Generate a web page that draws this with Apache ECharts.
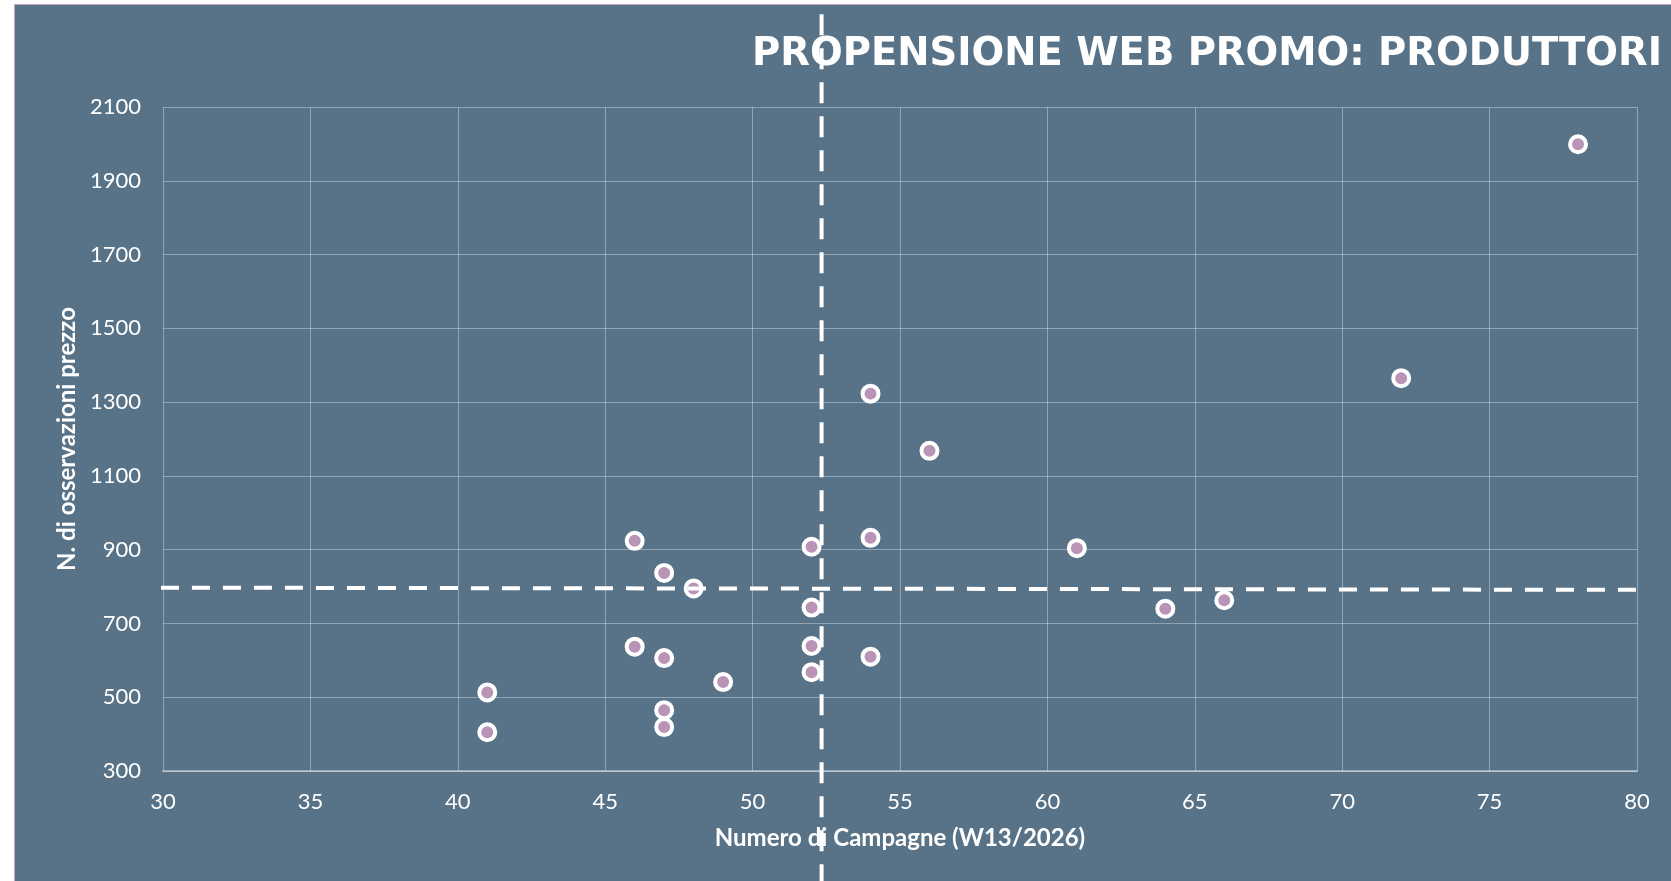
<!DOCTYPE html>
<html>
<head>
<meta charset="utf-8">
<script src="https://cdn.jsdelivr.net/npm/echarts@6/dist/echarts.min.js"></script>
<style>
  html, body { margin: 0; padding: 0; background: #fff; overflow: hidden; }
  #frame {
    position: absolute; left: 14px; top: 4px;
    width: 1657px; height: 877px;
    border-left: 1px solid #c9a3c7; border-top: 1px solid #c9a3c7;
  }
  #graph { width: 1657px; height: 877px; }
</style>
</head>
<body>
<div id="frame"><div id="graph"></div></div>
<script>
// numero di campagne (asse x) e osservazioni prezzo (asse y), un valore per produttore
const campagne = [41, 41, 46, 46, 47, 47, 47, 47, 48, 49, 52, 52, 52, 52, 54, 54, 54, 56, 61, 64, 66, 72, 78]
const osservazioni = [405, 513, 924, 637, 837, 606, 465, 419, 795, 541, 908, 743, 639, 568, 1323, 932, 610, 1168, 904, 740, 763, 1365, 1999]

// linee di riferimento (medie) tratteggiate
const lineaOrizz = [[29.93, 797], [80.1, 791]]
const lineaVert = [[52.34, -10], [52.34, 2355]]

const xMin = 30
const xMax = 80
const xStep = 5
const yMin = 300
const yMax = 2100
const yStep = 200

const font = 'Lato'
const dom = document.getElementById('graph')
const chart = echarts.init(dom)

const punti = campagne.map((c, i) => [c, osservazioni[i]])
const grigliaColor = 'rgba(255,255,255,0.34)'

const option = {
  backgroundColor: '#587387',
  animation: false,
  title: {
    text: 'PROPENSIONE WEB PROMO: PRODUTTORI',
    right: 5,
    top: 25,
    textStyle: { color: '#fff', fontFamily: 'DejaVu Sans', fontWeight: 'bold', fontSize: 38.5 }
  },
  grid: { left: 148, right: 35, top: 102, bottom: 111 },
  xAxis: {
    type: 'value',
    min: xMin,
    max: xMax,
    interval: xStep,
    name: 'Numero di Campagne (W13/2026)',
    nameLocation: 'middle',
    nameGap: 55,
    nameTextStyle: { color: '#fff', fontFamily: font, fontWeight: 'bold', fontSize: 24 },
    axisLine: { lineStyle: { color: 'rgba(255,255,255,0.4)', width: 2 } },
    axisTick: { show: false },
    axisLabel: { color: '#fff', fontFamily: font, fontSize: 22, margin: 20 },
    splitLine: { show: true, lineStyle: { color: grigliaColor, width: 1 } }
  },
  yAxis: {
    type: 'value',
    min: yMin,
    max: yMax,
    interval: yStep,
    name: 'N. di osservazioni prezzo',
    nameLocation: 'middle',
    nameGap: 84,
    nameTextStyle: { color: '#fff', fontFamily: font, fontWeight: 'bold', fontSize: 24 },
    axisLine: { show: false },
    axisTick: { show: false },
    axisLabel: {
      color: '#fff', fontFamily: font, fontSize: 22, margin: 22,
      formatter: v => String(v)
    },
    splitLine: { show: true, lineStyle: { color: grigliaColor, width: 1 } }
  },
  series: [
    {
      type: 'scatter',
      data: punti,
      symbol: 'circle',
      symbolSize: 16,
      itemStyle: { color: '#b994b6', borderColor: '#fff', borderWidth: 4, opacity: 1 },
      z: 2
    },
    {
      type: 'line',
      data: lineaOrizz,
      clip: false,
      symbol: 'none',
      silent: true,
      lineStyle: { color: '#fff', width: 4, type: [18, 13] },
      z: 5
    },
    {
      type: 'line',
      data: lineaVert,
      clip: false,
      symbol: 'none',
      silent: true,
      lineStyle: { color: '#fff', width: 4, type: [21, 13] },
      z: 5
    }
  ]
}

chart.setOption(option)
</script>
</body>
</html>
